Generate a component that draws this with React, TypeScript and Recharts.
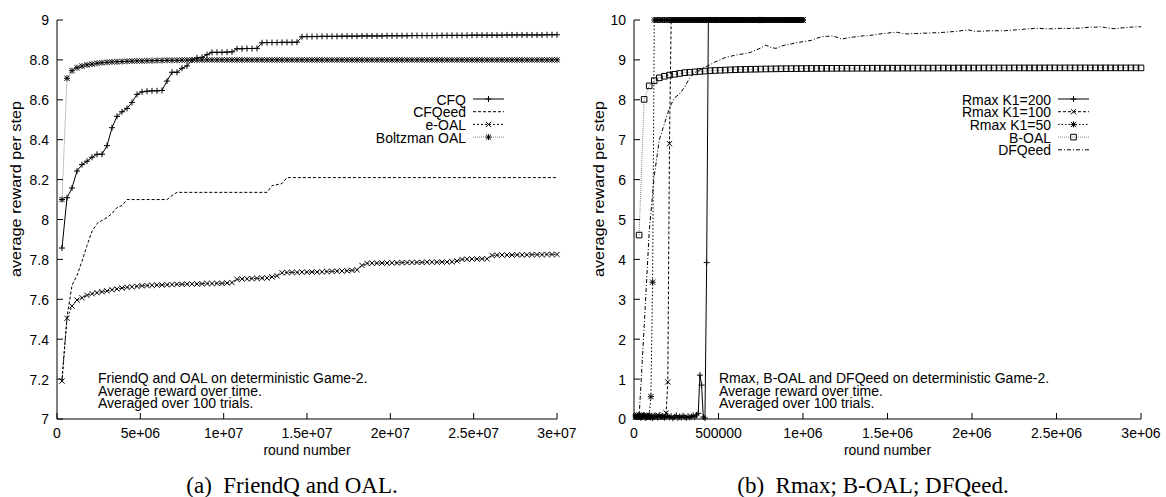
import React from 'react';
import { LineChart, Line, XAxis, YAxis, Legend } from 'recharts';

// ---------- Left chart data (a) FriendQ and OAL ----------
const leftRounds = Array.from({ length: 100 }, (_, i) => (i + 1) * 300000);

const cfqValues = [
  7.857, 8.109, 8.158, 8.243, 8.275, 8.292, 8.312, 8.327, 8.327, 8.37,
  8.46, 8.517, 8.54, 8.557, 8.587, 8.627, 8.64, 8.643, 8.645, 8.645,
  8.647, 8.694, 8.738, 8.738, 8.758, 8.77, 8.8, 8.81, 8.813, 8.826,
  8.838, 8.838, 8.838, 8.839, 8.84, 8.856, 8.856, 8.857, 8.857, 8.858,
  8.886, 8.887, 8.887, 8.887, 8.888, 8.888, 8.888, 8.889, 8.916, 8.917,
  8.917, 8.917, 8.918, 8.918, 8.918, 8.918, 8.919, 8.919, 8.919, 8.919,
  8.92, 8.92, 8.92, 8.92, 8.92, 8.921, 8.921, 8.921, 8.921, 8.921,
  8.922, 8.922, 8.922, 8.922, 8.922, 8.922, 8.923, 8.923, 8.923, 8.923,
  8.923, 8.923, 8.924, 8.924, 8.924, 8.924, 8.924, 8.924, 8.924, 8.925,
  8.925, 8.925, 8.925, 8.925, 8.925, 8.925, 8.925, 8.926, 8.926, 8.926,
];

const cfqeedValues = [
  7.2, 7.51, 7.67, 7.72, 7.79, 7.87, 7.94, 7.98, 7.995, 8.01,
  8.03, 8.06, 8.07, 8.1, 8.1, 8.1, 8.1, 8.1, 8.1, 8.1,
  8.1, 8.1, 8.12, 8.136, 8.136, 8.136, 8.136, 8.136, 8.136, 8.136,
  8.136, 8.136, 8.136, 8.136, 8.136, 8.136, 8.136, 8.136, 8.136, 8.136,
  8.136, 8.136, 8.17, 8.175, 8.18, 8.21, 8.21, 8.21, 8.21, 8.21,
  8.21, 8.21, 8.21, 8.21, 8.21, 8.21, 8.21, 8.21, 8.21, 8.21,
  8.21, 8.21, 8.21, 8.21, 8.21, 8.21, 8.21, 8.21, 8.21, 8.21,
  8.21, 8.21, 8.21, 8.21, 8.21, 8.21, 8.21, 8.21, 8.21, 8.21,
  8.21, 8.21, 8.21, 8.21, 8.21, 8.21, 8.21, 8.21, 8.21, 8.21,
  8.21, 8.21, 8.21, 8.21, 8.21, 8.21, 8.21, 8.21, 8.21, 8.21,
];

const eOalValues = [
  7.19, 7.505, 7.566, 7.596, 7.608, 7.62, 7.628, 7.633, 7.638, 7.642,
  7.648, 7.652, 7.657, 7.66, 7.663, 7.665, 7.668, 7.669, 7.67, 7.671,
  7.672, 7.673, 7.674, 7.675, 7.675, 7.676, 7.677, 7.677, 7.678, 7.679,
  7.679, 7.68, 7.68, 7.682, 7.684, 7.7, 7.702, 7.703, 7.704, 7.705,
  7.706, 7.707, 7.712, 7.718, 7.733, 7.734, 7.735, 7.735, 7.736, 7.736,
  7.737, 7.737, 7.738, 7.739, 7.74, 7.741, 7.742, 7.743, 7.745, 7.748,
  7.77, 7.78, 7.781, 7.781, 7.782, 7.782, 7.783, 7.783, 7.784, 7.784,
  7.785, 7.785, 7.785, 7.786, 7.786, 7.786, 7.787, 7.787, 7.788, 7.792,
  7.8, 7.801, 7.802, 7.802, 7.803, 7.803, 7.82, 7.821, 7.822, 7.822,
  7.822, 7.823, 7.823, 7.823, 7.824, 7.824, 7.824, 7.825, 7.825, 7.825,
];

const boltzmanValues = [
  8.1, 8.708, 8.746, 8.761, 8.769, 8.775, 8.779, 8.783, 8.786, 8.788,
  8.79, 8.791, 8.792, 8.793, 8.794, 8.795, 8.795, 8.796, 8.796, 8.797,
  8.797, 8.798, 8.798, 8.798, 8.799, 8.799, 8.799, 8.799, 8.8, 8.8,
  8.8, 8.8, 8.8, 8.8, 8.8, 8.8, 8.8, 8.8, 8.8, 8.8,
  8.8, 8.8, 8.8, 8.8, 8.8, 8.8, 8.8, 8.8, 8.8, 8.8,
  8.8, 8.8, 8.8, 8.8, 8.8, 8.8, 8.8, 8.8, 8.8, 8.8,
  8.8, 8.8, 8.8, 8.8, 8.8, 8.8, 8.8, 8.8, 8.8, 8.8,
  8.8, 8.8, 8.8, 8.8, 8.8, 8.8, 8.8, 8.8, 8.8, 8.8,
  8.8, 8.8, 8.8, 8.8, 8.8, 8.8, 8.8, 8.8, 8.8, 8.8,
  8.8, 8.8, 8.8, 8.8, 8.8, 8.8, 8.8, 8.8, 8.8, 8.8,
];

const leftXTicks = [0, 5e6, 1e7, 1.5e7, 2e7, 2.5e7, 3e7];
const leftXTickLabels = ['0', '5e+06', '1e+07', '1.5e+07', '2e+07', '2.5e+07', '3e+07'];
const leftYTicks = [7, 7.2, 7.4, 7.6, 7.8, 8, 8.2, 8.4, 8.6, 8.8, 9];
const leftYTickLabels = ['7', '7.2', '7.4', '7.6', '7.8', '8', '8.2', '8.4', '8.6', '8.8', '9'];

// ---------- Right chart data (b) Rmax; B-OAL; DFQeed ----------
const rmaxRounds = Array.from({ length: 100 }, (_, i) => (i + 1) * 10000);
const slowRounds = Array.from({ length: 100 }, (_, i) => (i + 1) * 30000);

const rmax200Values = [
  0.08, 0.05, 0.1, 0.04, 0.07, 0.09, 0.03, 0.06, 0.1, 0.05,
  0.02, 0.08, 0.06, 0.04, 0.09, 0.05, 0.07, 0.03, 0.06, 0.08,
  0.04, 0.07, 0.02, 0.05, 0.09, 0.03, 0.06, 0.04, 0.08, 0.05,
  0.03, 0.07, 0.04, 0.06, 0.09, 0.05, 0.1, 0.14, 1.1, 0.85,
  0.05, 0.02, 3.92, 10, 10, 10, 10, 10, 10, 10,
  10, 10, 10, 10, 10, 10, 10, 10, 10, 10,
  10, 10, 10, 10, 10, 10, 10, 10, 10, 10,
  10, 10, 10, 10, 10, 10, 10, 10, 10, 10,
  10, 10, 10, 10, 10, 10, 10, 10, 10, 10,
  10, 10, 10, 10, 10, 10, 10, 10, 10, 10,
];

const rmax100Values = [
  0.06, 0.09, 0.04, 0.1, 0.07, 0.05, 0.08, 0.03, 0.09, 0.06,
  0.04, 0.08, 0.05, 0.1, 0.07, 0.04, 0.06, 0.08, 0.15, 0.93,
  6.9, 10, 10, 10, 10, 10, 10, 10, 10, 10,
  10, 10, 10, 10, 10, 10, 10, 10, 10, 10,
  10, 10, 10, 10, 10, 10, 10, 10, 10, 10,
  10, 10, 10, 10, 10, 10, 10, 10, 10, 10,
  10, 10, 10, 10, 10, 10, 10, 10, 10, 10,
  10, 10, 10, 10, 10, 10, 10, 10, 10, 10,
  10, 10, 10, 10, 10, 10, 10, 10, 10, 10,
  10, 10, 10, 10, 10, 10, 10, 10, 10, 10,
];

const rmax50Values = [
  0.05, 0.08, 0.1, 0.04, 0.07, 0.09, 0.05, 0.06, 0.08, 0.56,
  3.43, 10, 10, 10, 10, 10, 10, 10, 10, 10,
  10, 10, 10, 10, 10, 10, 10, 10, 10, 10,
  10, 10, 10, 10, 10, 10, 10, 10, 10, 10,
  10, 10, 10, 10, 10, 10, 10, 10, 10, 10,
  10, 10, 10, 10, 10, 10, 10, 10, 10, 10,
  10, 10, 10, 10, 10, 10, 10, 10, 10, 10,
  10, 10, 10, 10, 10, 10, 10, 10, 10, 10,
  10, 10, 10, 10, 10, 10, 10, 10, 10, 10,
  10, 10, 10, 10, 10, 10, 10, 10, 10, 10,
];

const bOalValues = [
  4.61, 8.01, 8.35, 8.48, 8.55, 8.59, 8.62, 8.64, 8.66, 8.68,
  8.69, 8.7, 8.71, 8.72, 8.73, 8.735, 8.74, 8.745, 8.75, 8.755,
  8.76, 8.762, 8.765, 8.767, 8.77, 8.772, 8.774, 8.776, 8.778, 8.78,
  8.781, 8.782, 8.783, 8.784, 8.785, 8.786, 8.787, 8.788, 8.788, 8.789,
  8.79, 8.79, 8.79, 8.791, 8.791, 8.791, 8.792, 8.792, 8.792, 8.793,
  8.793, 8.793, 8.794, 8.794, 8.794, 8.795, 8.795, 8.795, 8.795, 8.796,
  8.796, 8.796, 8.796, 8.797, 8.797, 8.797, 8.797, 8.797, 8.798, 8.798,
  8.798, 8.798, 8.798, 8.798, 8.799, 8.799, 8.799, 8.799, 8.799, 8.799,
  8.8, 8.8, 8.8, 8.8, 8.8, 8.8, 8.8, 8.8, 8.8, 8.8,
  8.8, 8.8, 8.8, 8.8, 8.8, 8.8, 8.8, 8.8, 8.8, 8.8,
];

const dfqeedValues = [
  0.03, 2.3, 4.7, 6.1, 7.0, 7.4, 7.8, 8.05, 8.15, 8.32,
  8.56, 8.68, 8.75, 8.82, 8.88, 8.95, 9.0, 9.06, 9.09, 9.12,
  9.14, 9.16, 9.19, 9.24, 9.3, 9.37, 9.31, 9.29, 9.34, 9.38,
  9.4, 9.43, 9.45, 9.47, 9.49, 9.54, 9.58, 9.59, 9.6, 9.57,
  9.52, 9.55, 9.57, 9.58, 9.6, 9.61, 9.62, 9.64, 9.66, 9.67,
  9.69, 9.69, 9.66, 9.65, 9.66, 9.66, 9.67, 9.67, 9.68, 9.68,
  9.69, 9.7, 9.71, 9.72, 9.74, 9.75, 9.72, 9.72, 9.72, 9.73,
  9.73, 9.73, 9.73, 9.74, 9.75, 9.76, 9.77, 9.78, 9.79, 9.79,
  9.78, 9.78, 9.78, 9.79, 9.79, 9.79, 9.79, 9.8, 9.81, 9.82,
  9.82, 9.83, 9.81, 9.79, 9.78, 9.8, 9.81, 9.82, 9.83, 9.83,
];

const rightXTicks = [0, 5e5, 1e6, 1.5e6, 2e6, 2.5e6, 3e6];
const rightXTickLabels = ['0', '500000', '1e+06', '1.5e+06', '2e+06', '2.5e+06', '3e+06'];
const rightYTicks = [0, 1, 2, 3, 4, 5, 6, 7, 8, 9, 10];
const rightYTickLabels = ['0', '1', '2', '3', '4', '5', '6', '7', '8', '9', '10'];

const leftNote = ['FriendQ and OAL on deterministic Game-2.', 'Average reward over time.', 'Averaged over 100 trials.'];
const rightNote = ['Rmax, B-OAL and DFQeed on deterministic Game-2.', 'Average reward over time.', 'Averaged over 100 trials.'];
const yLabel = 'average reward per step';
const xLabel = 'round number';
const captionA = '(a)  FriendQ and OAL.';
const captionB = '(b)  Rmax; B-OAL; DFQeed.';

// ---------- helpers ----------
const SANS = '"Liberation Sans", Arial, Helvetica, sans-serif';
const SERIF = '"Liberation Serif", "Times New Roman", serif';
const STRETCH = 1.1;

const toPoints = (xs: number[], ys: number[]) => ys.map((y, i) => ({ x: xs[i], y }));

type MarkerKind = 'plus' | 'cross' | 'star' | 'box' | 'none';

const markerPath = (kind: MarkerKind, cx: number, cy: number) => {
  const p = 3;
  const c = 2.6;
  const plus = `M${cx - p},${cy}H${cx + p}M${cx},${cy - p}V${cy + p}`;
  const cross = `M${cx - c},${cy - c}L${cx + c},${cy + c}M${cx - c},${cy + c}L${cx + c},${cy - c}`;
  if (kind === 'plus') return plus;
  if (kind === 'cross') return cross;
  if (kind === 'star') return plus + cross;
  if (kind === 'box') return `M${cx - 2.8},${cy - 2.8}h5.6v5.6h-5.6Z`;
  return '';
};

const makeDot = (kind: MarkerKind) => (props: any) => {
  const { cx, cy, index } = props;
  if (kind === 'none' || cx == null || cy == null || isNaN(cx) || isNaN(cy)) {
    return <g key={`d-${index}`} />;
  }
  return (
    <path key={`d-${index}`} d={markerPath(kind, cx, cy)} stroke="#000" strokeWidth={1} fill="none" />
  );
};

type SeriesStyle = { name: string; stroke: string; dash?: string; marker: MarkerKind };

const leftStyles: SeriesStyle[] = [
  { name: 'CFQ', stroke: '#000', marker: 'plus' },
  { name: 'CFQeed', stroke: '#000', dash: '3 2', marker: 'none' },
  { name: 'e-OAL', stroke: '#000', dash: '2 2', marker: 'cross' },
  { name: 'Boltzman OAL', stroke: '#888', dash: '1 1', marker: 'star' },
];

const rightStyles: SeriesStyle[] = [
  { name: 'Rmax K1=200', stroke: '#000', marker: 'plus' },
  { name: 'Rmax K1=100', stroke: '#000', dash: '3 2', marker: 'cross' },
  { name: 'Rmax K1=50', stroke: '#000', dash: '1.5 2', marker: 'star' },
  { name: 'B-OAL', stroke: '#888', dash: '1 1', marker: 'box' },
  { name: 'DFQeed', stroke: '#000', dash: '4 2 1 2', marker: 'none' },
];

const LegendBox = ({ items, textEnd }: { items: SeriesStyle[]; textEnd: number }) => (
  <svg width={160} height={items.length * 12.7 + 8} style={{ display: 'block', overflow: 'visible' }}>
    {items.map((s, i) => {
      const y = 9 + i * 12.7;
      const x1 = textEnd + 7;
      const x2 = textEnd + 38;
      const mx = (x1 + x2) / 2;
      return (
        <g key={s.name}>
          <g transform={`translate(${textEnd},${y}) scale(1,${STRETCH})`}>
            <text x={0} y={0} dy="0.36em" textAnchor="end" fontFamily={SANS} fontSize={14} fill="#000">
              {s.name}
            </text>
          </g>
          <line x1={x1} y1={y} x2={x2} y2={y} stroke={s.stroke} strokeWidth={1} strokeDasharray={s.dash} />
          {s.marker !== 'none' && (
            <path d={markerPath(s.marker, mx, y)} stroke="#000" strokeWidth={1} fill="none" />
          )}
        </g>
      );
    })}
  </svg>
);

const labelOf = (ticks: number[], labels: string[]) => (v: number) => {
  const i = ticks.findIndex((t) => Math.abs(t - v) < 1e-9 * Math.max(1, Math.abs(t)));
  return i >= 0 ? labels[i] : String(v);
};

const makeTick = (ticks: number[], labels: string[], side: 'bottom' | 'left') => (props: any) => {
  const { x, y, payload, textAnchor } = props;
  const text = labelOf(ticks, labels)(payload.value);
  return (
    <g transform={`translate(${x},${y}) scale(1,${STRETCH})`}>
      <text
        x={0}
        y={0}
        dy={side === 'bottom' ? '0.71em' : '0.355em'}
        textAnchor={side === 'bottom' ? 'middle' : textAnchor || 'end'}
        fontFamily={SANS}
        fontSize={14}
        fill="#000"
      >
        {text}
      </text>
    </g>
  );
};

type PanelProps = {
  width: number;
  yAxisWidth: number;
  rightMargin: number;
  xDomain: [number, number];
  yDomain: [number, number];
  xTicks: number[];
  xTickLabels: string[];
  yTicks: number[];
  yTickLabels: string[];
  series: { data: { x: number; y: number }[]; style: SeriesStyle }[];
  legendLeft: number;
  legendItems: SeriesStyle[];
};

const Panel = (p: PanelProps) => (
  <LineChart
    width={p.width}
    height={497}
    margin={{ top: 20, right: p.rightMargin, bottom: 48, left: 0 }}
  >
    <XAxis
      dataKey="x"
      type="number"
      domain={p.xDomain}
      ticks={p.xTicks}
      interval={0}
      tick={makeTick(p.xTicks, p.xTickLabels, 'bottom')}
      tickSize={-6}
      tickMargin={14}
      height={30}
      axisLine={{ stroke: '#000' }}
      tickLine={{ stroke: '#000' }}
    />
    <XAxis
      xAxisId="top"
      orientation="top"
      type="number"
      domain={p.xDomain}
      ticks={p.xTicks}
      interval={0}
      tick={false}
      tickSize={-6}
      height={0}
      axisLine={{ stroke: '#000' }}
      tickLine={{ stroke: '#000' }}
    />
    <YAxis
      type="number"
      domain={p.yDomain}
      ticks={p.yTicks}
      interval={0}
      tick={makeTick(p.yTicks, p.yTickLabels, 'left')}
      tickSize={-6}
      tickMargin={14}
      width={p.yAxisWidth}
      axisLine={{ stroke: '#000' }}
      tickLine={{ stroke: '#000' }}
    />
    <YAxis
      yAxisId="right"
      orientation="right"
      type="number"
      domain={p.yDomain}
      ticks={p.yTicks}
      interval={0}
      tick={false}
      tickSize={-6}
      width={0}
      axisLine={{ stroke: '#000' }}
      tickLine={{ stroke: '#000' }}
    />
    {p.series.map((s) => (
      <Line
        key={s.style.name}
        name={s.style.name}
        data={s.data}
        dataKey="y"
        type="linear"
        stroke={s.style.stroke}
        strokeWidth={1}
        strokeDasharray={s.style.dash}
        dot={makeDot(s.style.marker)}
        activeDot={false}
        isAnimationActive={false}
      />
    ))}
    <Legend
      layout="vertical"
      align="center"
      verticalAlign="middle"
      wrapperStyle={{ position: 'absolute', left: p.legendLeft, top: 90, width: 160, height: 80 }}
      content={() => <LegendBox items={p.legendItems} textEnd={106} />}
    />
  </LineChart>
);

const abs = (style: React.CSSProperties): React.CSSProperties => ({ position: 'absolute', ...style });

const Note = ({ left, lines }: { left: number; lines: string[] }) => (
  <div
    style={abs({
      left,
      top: 372,
      fontFamily: SANS,
      fontSize: 14,
      lineHeight: '11.5px',
      whiteSpace: 'pre',
      color: '#000',
      transform: `scaleY(${STRETCH})`,
      transformOrigin: '0 0',
    })}
  >
    {lines.map((l) => (
      <div key={l}>{l}</div>
    ))}
  </div>
);

const XLabel = ({ cx }: { cx: number }) => (
  <div
    style={abs({
      left: cx - 100,
      width: 200,
      top: 443,
      textAlign: 'center',
      fontFamily: SANS,
      fontSize: 14,
      lineHeight: '14px',
      color: '#000',
      transform: `scaleY(${STRETCH})`,
      transformOrigin: '50% 50%',
    })}
  >
    {xLabel}
  </div>
);

const YLabel = ({ cx }: { cx: number }) => (
  <div
    style={abs({
      left: cx - 100,
      top: 189 - 8,
      width: 200,
      height: 16,
      lineHeight: '16px',
      textAlign: 'center',
      fontFamily: SANS,
      fontSize: 14,
      color: '#000',
      transform: 'rotate(-90deg) scaleX(1.16)',
      transformOrigin: '50% 50%',
      whiteSpace: 'pre',
    })}
  >
    {yLabel}
  </div>
);

const Caption = ({ cx, text }: { cx: number; text: string }) => (
  <div
    style={abs({
      left: cx - 200,
      width: 400,
      top: 474,
      textAlign: 'center',
      fontFamily: SERIF,
      fontSize: 23,
      lineHeight: '23px',
      whiteSpace: 'pre',
      color: '#000',
    })}
  >
    {text}
  </div>
);

export default function App() {
  const leftSeries = [
    { data: toPoints(leftRounds, cfqValues), style: leftStyles[0] },
    { data: toPoints(leftRounds, cfqeedValues), style: leftStyles[1] },
    { data: toPoints(leftRounds, eOalValues), style: leftStyles[2] },
    { data: toPoints(leftRounds, boltzmanValues), style: leftStyles[3] },
  ];
  const rightSeries = [
    { data: toPoints(rmaxRounds, rmax200Values), style: rightStyles[0] },
    { data: toPoints(rmaxRounds, rmax100Values), style: rightStyles[1] },
    { data: toPoints(rmaxRounds, rmax50Values), style: rightStyles[2] },
    { data: toPoints(slowRounds, bOalValues), style: rightStyles[3] },
    { data: toPoints(slowRounds, dfqeedValues), style: rightStyles[4] },
  ];
  return (
    <div style={abs({ left: 0, top: 0, width: 1166, height: 497, background: '#fff', overflow: 'hidden' })}>
      <div style={abs({ left: 0, top: 0 })}>
        <Panel
          width={590}
          yAxisWidth={57}
          rightMargin={33}
          xDomain={[0, 3e7]}
          yDomain={[7, 9]}
          xTicks={leftXTicks}
          xTickLabels={leftXTickLabels}
          yTicks={leftYTicks}
          yTickLabels={leftYTickLabels}
          series={leftSeries}
          legendLeft={360}
          legendItems={leftStyles}
        />
      </div>
      <div style={abs({ left: 590, top: 0 })}>
        <Panel
          width={576}
          yAxisWidth={44}
          rightMargin={25}
          xDomain={[0, 3e6]}
          yDomain={[0, 10]}
          xTicks={rightXTicks}
          xTickLabels={rightXTickLabels}
          yTicks={rightYTicks}
          yTickLabels={rightYTickLabels}
          series={rightSeries}
          legendLeft={355}
          legendItems={rightStyles}
        />
      </div>
      <Note left={98} lines={leftNote} />
      <Note left={719} lines={rightNote} />
      <XLabel cx={307} />
      <XLabel cx={887.5} />
      <YLabel cx={16} />
      <YLabel cx={599} />
      <Caption cx={292} text={captionA} />
      <Caption cx={873} text={captionB} />
    </div>
  );
}
